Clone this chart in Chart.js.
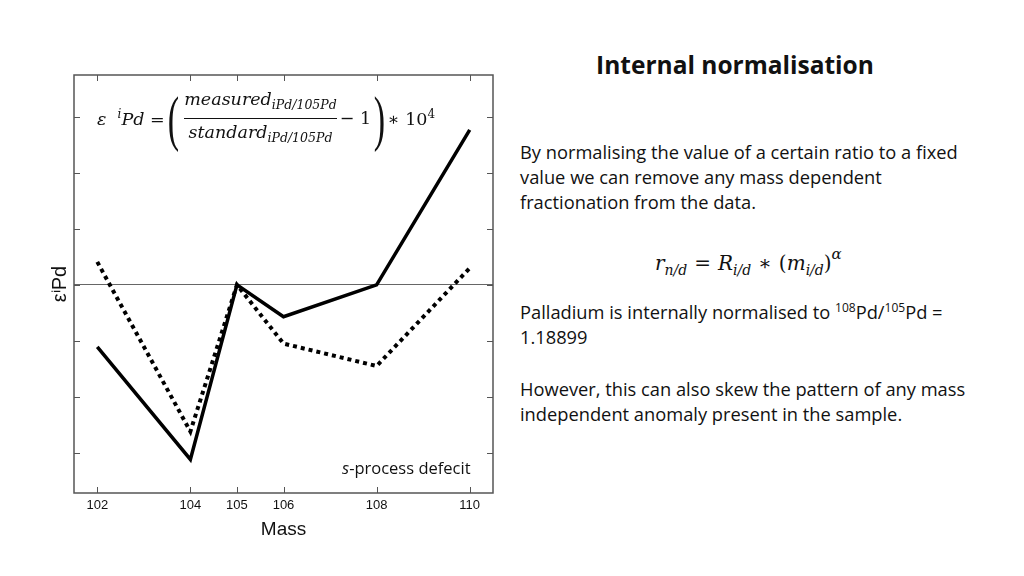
<!DOCTYPE html>
<html>
<head>
<meta charset="utf-8">
<script src="https://cdn.jsdelivr.net/npm/chart.js@4.4.0/dist/chart.umd.min.js"></script>
<style>
  html, body { margin: 0; padding: 0; background: #fff; }
  body { width: 1024px; height: 576px; position: relative; overflow: hidden; font-family: "Open Sans", sans-serif; }
  #chartBox { position: absolute; left: 0; top: 0; width: 520px; height: 576px; }
  .math { font-family: "DejaVu Serif", "Liberation Serif", serif; font-style: italic; color: #111; white-space: nowrap; }
  #formula { position: absolute; left: 97px; top: 86px; height: 64px; display: flex; align-items: center; font-size: 17.5px; }
  #formula .up { font-style: normal; }
  #formula sub { font-size: 12.5px; vertical-align: -4px; }
  #formula sup { font-size: 12px; vertical-align: 7px; }
  .frac { display: inline-flex; flex-direction: column; align-items: center; margin: 0 3px; line-height: 26px; }
  .frac .den { border-top: 1.5px solid #111; width: 100%; text-align: center; }
  .paren { font-style: normal; font-family: "Liberation Serif", serif; font-size: 62px; font-weight: 300; line-height: 1; transform: scaleX(0.55); display: inline-block; margin: 0 -2px; }
  #sdef { position: absolute; left: 342px; top: 456px; font-family: "Open Sans", sans-serif; font-size: 16.5px; color: #111; }
  #title { position: absolute; left: 560px; width: 350px; top: 48px; text-align: center; font-weight: bold; font-size: 24.5px; color: #111; }
  .para { position: absolute; left: 520px; width: 455px; font-size: 18.3px; line-height: 25px; color: #111; }
  #eq2 { position: absolute; left: 655px; top: 245px; font-size: 20px; }
  #eq2 sub { font-size: 14px; vertical-align: -5px; }
  #eq2 .up { font-style: normal; margin: 0 7px; }
  sup.t { font-size: 12px; vertical-align: 7px; line-height: 0; }
</style>
</head>
<body>
<div id="chartBox"><canvas id="massChart"></canvas></div>

<div id="formula" class="math">
  <span>ε&nbsp;&nbsp;<sup>i</sup>Pd&nbsp;<span class="up">=</span></span>
  <span class="paren">(</span>
  <span class="frac"><span class="num">measured<sub>iPd/105Pd</sub></span><span class="den">standard<sub>iPd/105Pd</sub></span></span>
  <span class="up">&minus;&nbsp;1</span>
  <span class="paren">)</span>
  <span class="up">∗&nbsp;10<sup>4</sup></span>
</div>
<div id="sdef"><i>s</i>-process defecit</div>

<div id="title">Internal normalisation</div>
<div class="para" style="top:139px">By normalising the value of a certain ratio to a fixed value we can remove any mass dependent fractionation from the data.</div>
<div id="eq2" class="math">r<sub>n/d</sub><span class="up">=</span>R<sub>i/d</sub><span class="up">∗</span><span style="font-style:normal">(</span>m<sub>i/d</sub><span style="font-style:normal">)</span><sup style="font-size:15px;vertical-align:11px">α</sup></div>
<div class="para" style="top:299px">Palladium is internally normalised to <sup class="t">108</sup>Pd/<sup class="t">105</sup>Pd = 1.18899</div>
<div class="para" style="top:376px">However, this can also skew the pattern of any mass independent anomaly present in the sample.</div>

<script>
const masses = [102, 104, 105, 106, 108, 110];
const measured = [-1.11, -3.12, 0, -0.57, 0, 2.77];
const dotted = [0.41, -2.62, 0, -1.05, -1.45, 0.3];
const massTicks = [102, 104, 105, 106, 108, 110];
const epsTicks = [-3, -2, -1, 0, 1, 2, 3];

const toPoints = (ys) => masses.map((m, i) => ({ x: m, y: ys[i] }));

// frame + inward tick marks on all four sides
const frameTicks = {
  id: "frameTicks",
  afterDraw(chart) {
    const { ctx, chartArea: a, scales } = chart;
    ctx.save();
    ctx.strokeStyle = "#555";
    ctx.lineWidth = 1.5;
    ctx.strokeRect(a.left, a.top, a.right - a.left, a.bottom - a.top);
    ctx.lineWidth = 1;
    ctx.beginPath();
    massTicks.forEach((v) => {
      const x = Math.round(scales.x.getPixelForValue(v)) + 0.5;
      ctx.moveTo(x, a.bottom); ctx.lineTo(x, a.bottom - 6);
      ctx.moveTo(x, a.top); ctx.lineTo(x, a.top + 6);
    });
    epsTicks.forEach((v) => {
      const y = Math.round(scales.y.getPixelForValue(v)) + 0.5;
      ctx.moveTo(a.left, y); ctx.lineTo(a.left + 6, y);
      ctx.moveTo(a.right, y); ctx.lineTo(a.right - 6, y);
    });
    ctx.stroke();
    ctx.restore();
  },
};

new Chart(document.getElementById("massChart"), {
  type: "line",
  data: {
    datasets: [
      {
        data: toPoints(measured),
        borderColor: "#000",
        borderWidth: 3.5,
        borderJoinStyle: "miter",
        pointRadius: 0,
        tension: 0,
      },
      {
        data: toPoints(dotted),
        borderColor: "#000",
        borderWidth: 4,
        borderDash: [4, 4],
        borderJoinStyle: "miter",
        pointRadius: 0,
        tension: 0,
      },
    ],
  },
  options: {
    responsive: true,
    maintainAspectRatio: false,
    animation: false,
    layout: { padding: { top: 75, right: 27, left: 0, bottom: 0 } },
    plugins: { legend: { display: false }, tooltip: { enabled: false } },
    scales: {
      x: {
        type: "linear",
        min: 101.5,
        max: 110.5,
        afterBuildTicks: (s) => { s.ticks = massTicks.map((v) => ({ value: v })); },
        afterFit: (s) => { s.height = 83; },
        grid: { display: false, drawTicks: false },
        border: { display: false },
        ticks: { color: "#111", padding: 5, font: { family: "Liberation Sans", size: 13 } },
        title: {
          display: true,
          text: "Mass",
          color: "#111",
          font: { family: "Liberation Sans", size: 19 },
          padding: { top: 0, bottom: 35 },
        },
      },
      y: {
        min: -3.72,
        max: 3.75,
        afterBuildTicks: (s) => { s.ticks = epsTicks.map((v) => ({ value: v })); },
        afterFit: (s) => { s.width = 74; },
        grid: {
          drawTicks: false,
          color: (c) => (c.tick && c.tick.value === 0 ? "#666" : "rgba(0,0,0,0)"),
          lineWidth: 1,
        },
        border: { display: false },
        ticks: { display: false },
        title: {
          display: true,
          text: "εⁱPd",
          color: "#111",
          font: { family: "Liberation Sans", size: 20 },
          padding: { top: 48, bottom: 0 },
        },
      },
    },
  },
  plugins: [frameTicks],
});
</script>
</body>
</html>
